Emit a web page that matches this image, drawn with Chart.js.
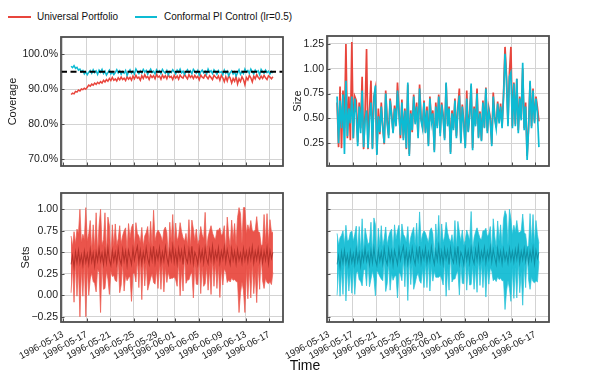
<!DOCTYPE html>
<html><head><meta charset="utf-8">
<script src="https://cdn.jsdelivr.net/npm/chart.js@4.4.1/dist/chart.umd.min.js"></script>
<style>
html,body{margin:0;padding:0;background:#fff;}
body{width:610px;height:383px;overflow:hidden;position:relative;font-family:'Liberation Sans',Arial,sans-serif;color:#111;}
canvas{position:absolute;}
.leg{position:absolute;font-size:10px;line-height:12px;white-space:nowrap;}
.sw{position:absolute;height:2px;}
</style></head><body>
<div class="sw" style="left:8px;top:16px;width:23px;background:#E8453C"></div>
<div class="leg" style="left:37px;top:10.5px">Universal Portfolio</div>
<div class="sw" style="left:135px;top:16px;width:22px;background:#0DBBD3"></div>
<div class="leg" style="left:164px;top:10.5px">Conformal PI Control (lr=0.5)</div>
<canvas id="cTL"></canvas>
<canvas id="cTR"></canvas>
<canvas id="cBL"></canvas>
<canvas id="cBR"></canvas>
<div style="position:absolute;left:305px;top:365px;transform:translate(-50%,-50%);font-size:14px;">Time</div>
<script>
// ---------------- data ----------------
const seriesNames = ['Universal Portfolio', 'Conformal PI Control (lr=0.5)'];
const tickLabels = ['1996-05-13','1996-05-17','1996-05-21','1996-05-25','1996-05-29','1996-06-01','1996-06-05','1996-06-09','1996-06-13','1996-06-17'];
const originDate = '1996-05-13T00:00:00Z';
const firstTime = '1996-05-14T09:00:00Z';
const stepHours = 6;
const targetCoverage = 95;
const coverageTicks = [70, 80, 90, 100];
const sizeTicks = [0.25, 0.5, 0.75, 1.0, 1.25];
const setsTicks = [-0.25, 0, 0.25, 0.5, 0.75, 1.0];

const coverageUP = [
 88.5,88.9,88.7,89.4,89.2,89.8,89.5,90.1,89.9,90.3,
 90.0,90.6,91.2,90.9,91.5,91.2,91.8,91.4,92.0,91.6,
 92.2,91.8,92.6,92.1,92.8,92.3,93.1,92.5,93.4,92.6,
 93.0,92.4,93.3,92.7,93.5,92.8,93.2,92.5,93.6,92.9,
 93.4,92.6,93.8,93.0,94.0,93.2,93.5,92.6,93.9,93.1,
 94.2,93.3,93.7,92.8,94.0,93.4,93.9,93.0,94.3,93.5,
 93.8,92.9,94.1,93.3,93.9,93.0,94.2,93.4,93.7,92.8,
 94.0,93.2,93.8,92.9,94.1,93.5,93.2,94.3,93.6,93.0,
 94.2,93.4,93.9,93.1,94.0,93.3,93.7,92.7,94.1,93.5,
 93.2,94.2,93.6,93.0,93.9,93.4,92.8,94.0,93.5,93.1,
 93.8,92.6,94.0,93.3,92.2,93.6,92.4,93.9,93.2,91.8,
 93.1,92.3,93.7,91.5,93.0,92.2,93.6,92.8,91.3,93.4,
 92.7,94.0,93.3,92.1,93.8,93.0,94.2,93.4,92.9,93.8,
 93.1,94.0,93.3,92.8,93.9,93.5,93.0,93.6
];
const coverageCP = [
 96.6,96.2,96.8,96.0,96.3,95.5,95.8,95.0,95.4,94.4,
 95.0,94.2,94.9,95.4,94.6,95.6,94.8,95.3,94.3,95.5,
 94.9,95.7,94.5,95.2,94.1,94.8,95.5,94.4,95.0,94.2,
 94.8,95.6,94.7,95.3,94.3,95.1,94.6,95.4,94.0,94.9,
 95.6,94.6,95.2,94.4,95.8,95.0,94.5,95.3,94.7,95.7,
 94.9,95.4,94.3,95.1,95.8,94.8,95.2,94.4,95.6,94.9,
 95.3,94.5,95.7,95.0,94.6,95.4,94.2,95.1,94.8,95.6,
 95.0,94.4,95.5,94.9,95.8,94.7,95.2,94.3,95.0,95.6,
 94.8,95.3,94.5,95.7,95.1,94.6,95.4,94.1,95.0,95.5,
 94.7,95.2,94.4,95.8,94.9,95.3,94.5,95.6,95.0,94.3,
 95.4,94.8,95.1,94.2,95.5,94.6,95.2,93.9,94.8,95.3,
 94.4,95.0,93.8,94.7,95.6,94.3,95.1,94.5,95.8,94.9,
 95.4,94.6,95.8,95.0,94.4,95.5,94.9,95.3,94.2,95.7,
 95.0,94.6,95.5,94.8,95.2,94.4,95.1,94.7
];
const sizeUP = [
 0.66,0.21,0.82,0.20,0.78,0.40,1.25,0.30,0.72,0.28,
 1.27,0.30,0.72,0.68,0.26,0.66,0.40,0.92,0.19,0.55,
 1.20,0.19,0.58,0.88,0.20,0.72,0.80,0.14,0.60,0.34,
 0.66,0.42,0.24,0.78,0.48,0.33,0.70,0.55,0.36,0.63,
 0.44,0.86,0.58,0.30,0.69,0.30,0.60,0.19,0.84,0.14,
 0.58,0.36,0.74,0.46,0.66,0.32,0.84,0.50,0.42,0.68,
 0.36,0.62,0.24,0.72,0.47,0.58,0.18,0.66,0.42,0.74,
 0.35,0.66,0.53,0.30,0.85,0.44,0.62,0.16,0.58,0.40,
 0.70,0.32,0.61,0.80,0.27,0.64,0.47,0.22,0.78,0.37,
 0.55,0.83,0.20,0.62,0.44,0.80,0.31,0.57,0.28,0.68,
 0.41,0.81,0.37,0.60,0.50,0.24,0.76,0.52,0.41,0.67,
 0.47,0.65,0.42,0.75,1.22,0.92,0.45,0.96,1.22,0.42,
 0.86,0.44,0.90,0.38,0.72,0.50,1.00,0.40,0.66,0.12,
 0.42,0.86,0.42,0.80,0.47,0.72,0.61,0.47
];
const sizeCP = [
 0.72,0.25,0.68,0.40,0.74,0.14,0.88,0.32,0.60,0.45,
 0.72,0.30,0.70,0.55,0.22,0.62,0.35,0.78,0.21,0.48,
 0.58,0.20,0.52,0.66,0.19,0.70,0.83,0.13,0.52,0.36,
 0.62,0.40,0.25,0.75,0.45,0.30,0.68,0.52,0.35,0.60,
 0.42,0.78,0.55,0.33,0.66,0.28,0.58,0.20,0.86,0.12,
 0.55,0.38,0.72,0.44,0.62,0.30,0.80,0.48,0.40,0.66,
 0.35,0.58,0.22,0.70,0.45,0.55,0.16,0.62,0.40,0.72,
 0.32,0.64,0.50,0.28,0.86,0.42,0.60,0.14,0.55,0.38,
 0.68,0.30,0.58,0.73,0.25,0.62,0.45,0.20,0.70,0.36,
 0.52,0.85,0.18,0.60,0.42,0.75,0.30,0.55,0.27,0.66,
 0.40,0.80,0.35,0.58,0.48,0.22,0.72,0.50,0.40,0.65,
 0.45,0.62,0.40,0.72,1.15,0.88,0.42,0.92,0.96,0.40,
 0.85,0.42,0.90,0.35,0.70,0.48,1.06,0.38,0.62,0.08,
 0.40,0.88,0.40,0.78,0.45,0.70,0.55,0.21
];
const predCenter = [
 0.36,0.46,0.33,0.50,0.38,0.52,0.375,0.47,0.35,0.51,
 0.385,0.48,0.36,0.53,0.39,0.49,0.34,0.50,0.40,0.54,
 0.40,0.49,0.36,0.52,0.38,0.55,0.41,0.35,0.52,0.40,
 0.50,0.37,0.54,0.42,0.36,0.53,0.40,0.51,0.35,0.52,
 0.44,0.36,0.54,0.41,0.50,0.57,0.39,0.52,0.37,0.50,
 0.40,0.55,0.43,0.36,0.53,0.41,0.57,0.38,0.51,0.42,
 0.55,0.38,0.50,0.40,0.56,0.44,0.36,0.52,0.41,0.57,
 0.39,0.51,0.37,0.54,0.42,0.52,0.36,0.55,0.43,0.38,
 0.53,0.40,0.57,0.37,0.50,0.45,0.36,0.54,0.41,0.52,
 0.38,0.55,0.43,0.37,0.53,0.41,0.57,0.39,0.51,0.42,
 0.55,0.38,0.51,0.42,0.56,0.39,0.53,0.44,0.36,0.54,
 0.41,0.51,0.37,0.53,0.41,0.49,0.38,0.54,0.41,0.51,
 0.39,0.53,0.42,0.56,0.38,0.51,0.415,0.54,0.40,0.52,
 0.38,0.51,0.41,0.55,0.37,0.52,0.43,0.50
];

// ---------------- derived ----------------
const DAY = 86400000;
const t0 = Date.parse(originDate);
const tStart = Date.parse(firstTime);
const xs = predCenter.map((_, i) => (tStart + i * stepHours * 3600000 - t0) / DAY);
const tickVals = tickLabels.map(s => (Date.parse(s + 'T00:00:00Z') - t0) / DAY);
const span = xs[xs.length - 1] - xs[0];
const xMin = xs[0] - 0.05 * span, xMax = xs[xs.length - 1] + 0.05 * span;
const pts = arr => arr.map((v, i) => ({x: xs[i], y: v}));

const RED = '#E8453C', CYAN = '#0DBBD3';
const FONT = "'Liberation Sans', Arial, sans-serif";
const TXT = '#1a1a1a';
const GRID = '#d3d3d3';

const framePlugin = {
  id: 'frame',
  afterDatasetsDraw(chart, args, opts) {
    const {ctx, chartArea: a, scales} = chart;
    ctx.save();
    if (opts.target != null) {
      const y = scales.y.getPixelForValue(opts.target);
      ctx.strokeStyle = '#000'; ctx.lineWidth = 2; ctx.setLineDash([6, 3.5]);
      ctx.beginPath(); ctx.moveTo(a.left, y); ctx.lineTo(a.right, y); ctx.stroke();
      ctx.setLineDash([]);
    }
    ctx.strokeStyle = '#4d4d4d'; ctx.lineWidth = 1;
    ctx.beginPath();
    scales.x.ticks.forEach(t => { const x = Math.round(scales.x.getPixelForValue(t.value)) + 0.5; ctx.moveTo(x, a.bottom); ctx.lineTo(x, a.bottom - 3.5); });
    scales.y.ticks.forEach(t => { const y = Math.round(scales.y.getPixelForValue(t.value)) + 0.5; ctx.moveTo(a.left, y); ctx.lineTo(a.left + 3.5, y); });
    ctx.stroke();
    ctx.lineWidth = 1.8;
    ctx.strokeRect(a.left, a.top, a.right - a.left, a.bottom - a.top);
    ctx.restore();
  }
};

function makeChart(id, cv, plot, cfg) {
  const el = document.getElementById(id);
  el.width = cv.w; el.height = cv.h;
  el.style.left = cv.x + 'px'; el.style.top = cv.y + 'px';
  el.style.width = cv.w + 'px'; el.style.height = cv.h + 'px';
  const padL = cfg.padL;
  const yW = plot.l - cv.x - padL;
  const xH = cv.y + cv.h - plot.b;
  new Chart(el, {
    type: 'line',
    data: {datasets: cfg.datasets},
    options: {
      responsive: false, animation: false, devicePixelRatio: 1,
      layout: {padding: {left: padL, top: plot.t - cv.y, right: cv.x + cv.w - plot.r, bottom: 0}},
      elements: {point: {radius: 0}, line: {tension: 0}},
      plugins: {legend: {display: false}, tooltip: {enabled: false}, frame: {target: cfg.target}},
      scales: {
        x: {
          type: 'linear', min: xMin, max: xMax,
          afterBuildTicks: s => { s.ticks = tickVals.map(v => ({value: v})); },
          afterFit: s => { s.height = xH; s.paddingLeft = 0; s.paddingRight = 0; s.paddingTop = 0; s.paddingBottom = 0; },
          grid: {color: GRID, lineWidth: 1, drawTicks: false},
          border: {display: false},
          ticks: {
            display: cfg.xLabels, autoSkip: false, minRotation: 28, maxRotation: 28, padding: 7,
            color: TXT, font: {family: FONT, size: 9.5},
            callback: (v, i) => tickLabels[i]
          }
        },
        y: {
          type: 'linear', min: cfg.yMin, max: cfg.yMax,
          afterBuildTicks: s => { s.ticks = cfg.yTicks.map(v => ({value: v})); },
          afterFit: s => { s.width = yW; s.paddingLeft = 0; s.paddingRight = 0; s.paddingTop = 0; s.paddingBottom = 0; },
          grid: {color: GRID, lineWidth: 1, drawTicks: false},
          border: {display: false},
          title: {display: !!cfg.yTitle, text: cfg.yTitle || '', color: TXT, padding: 0, font: {family: FONT, size: 11}},
          ticks: {display: cfg.yLabels, padding: 3, color: TXT, font: {family: FONT, size: 10.5}, callback: cfg.yFmt}
        }
      }
    },
    plugins: [framePlugin]
  });
}

const fmtMinus = v => (v < 0 ? '\u2212' + Math.abs(v).toFixed(2) : v.toFixed(2));

// Coverage (top-left)
makeChart('cTL', {x: 0, y: 25, w: 295, h: 150}, {l: 61, t: 37, r: 283, b: 166}, {
  padL: 6.7, yTitle: 'Coverage', yLabels: true, xLabels: false,
  yMin: 68, yMax: 105, yTicks: coverageTicks, yFmt: v => v.toFixed(1) + '%',
  target: targetCoverage,
  datasets: [
    {label: seriesNames[1], data: pts(coverageCP), borderColor: CYAN, borderWidth: 1.5},
    {label: seriesNames[0], data: pts(coverageUP), borderColor: RED, borderWidth: 1.5}
  ]
});

// Size (top-right)
makeChart('cTR', {x: 285, y: 25, w: 290, h: 150}, {l: 327, t: 36, r: 549, b: 166}, {
  padL: 5.9, yTitle: 'Size', yLabels: true, xLabels: false,
  yMin: 0.02, yMax: 1.33, yTicks: sizeTicks, yFmt: v => v.toFixed(2),
  datasets: [
    {label: seriesNames[1], data: pts(sizeCP), borderColor: CYAN, borderWidth: 1.7},
    {label: seriesNames[0], data: pts(sizeUP), borderColor: RED, borderWidth: 1.7}
  ]
});

function setsDatasets(size, fillCol, edgeCol, darkCol) {
  const lower = predCenter.map((c, i) => c - size[i] / 2);
  const upper = predCenter.map((c, i) => c + size[i] / 2);
  return [
    {data: pts(predCenter), borderColor: darkCol, borderWidth: 1.1, fill: false},
    {data: pts(lower), borderColor: edgeCol, borderWidth: 0.8, fill: false},
    {data: pts(upper), borderColor: edgeCol, borderWidth: 0.8, fill: '-1', backgroundColor: fillCol}
  ];
}

// Sets (bottom-left)
makeChart('cBL', {x: 0, y: 185, w: 295, h: 198}, {l: 61, t: 193, r: 283, b: 322}, {
  padL: 19.4, yTitle: 'Sets', yLabels: true, xLabels: true,
  yMin: -0.31, yMax: 1.19, yTicks: setsTicks, yFmt: fmtMinus,
  datasets: setsDatasets(sizeUP, 'rgba(232,69,60,0.92)', 'rgba(236,90,80,0.9)', 'rgba(150,25,18,0.6)')
});

// Sets (bottom-right)
makeChart('cBR', {x: 285, y: 185, w: 290, h: 198}, {l: 327, t: 193, r: 549, b: 322}, {
  padL: 0, yTitle: '', yLabels: false, xLabels: true,
  yMin: -0.31, yMax: 1.19, yTicks: setsTicks, yFmt: fmtMinus,
  datasets: setsDatasets(sizeCP, 'rgba(13,187,211,0.92)', 'rgba(40,195,218,0.9)', 'rgba(0,110,130,0.55)')
});
</script>
</body></html>
